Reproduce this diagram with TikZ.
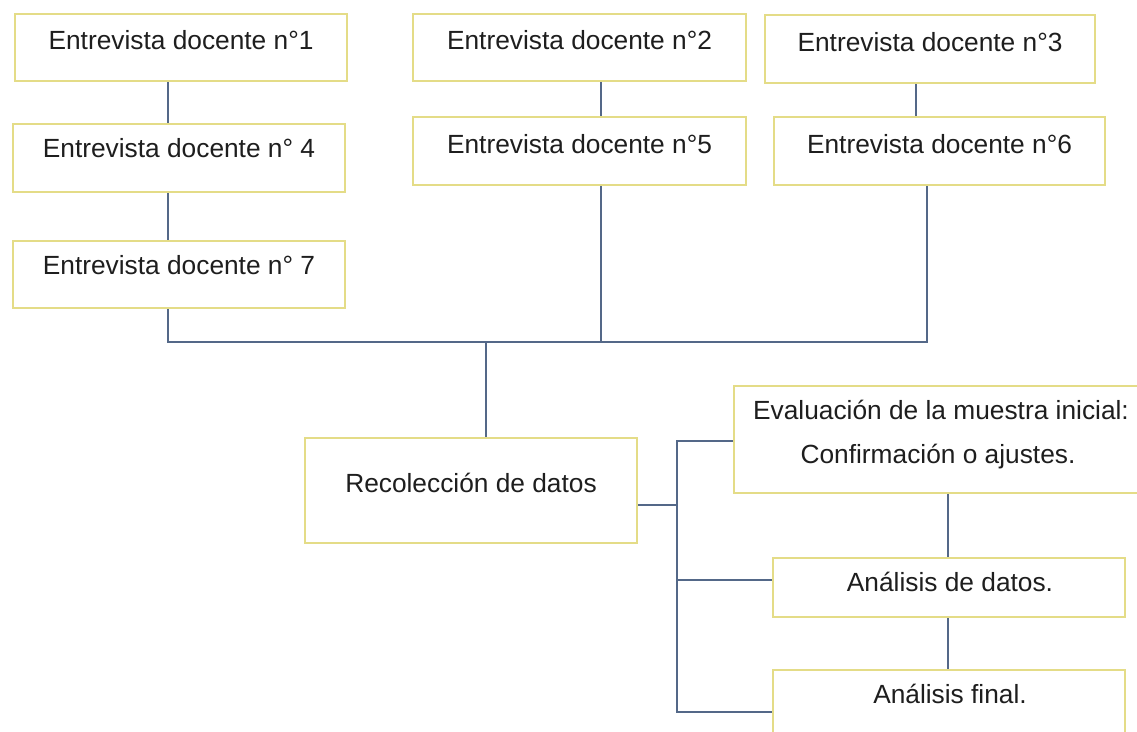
\documentclass[tikz,border=0pt]{standalone}
\usepackage{fontspec}
\setmainfont{Liberation Sans}
\usetikzlibrary{fit}
\definecolor{boxc}{RGB}{228,220,135}
\definecolor{connc}{RGB}{84,104,136}
\definecolor{txtc}{RGB}{30,30,30}
\begin{document}
\begin{tikzpicture}[x=1pt,y=-1pt,
  box/.style={draw=boxc, line width=2pt, fill=white, inner sep=0pt},
  txt/.style={anchor=base, inner sep=0pt, text=txtc, font=\fontsize{26.3pt}{32pt}\selectfont},
  conn/.style={draw=connc, line width=2pt}]
\fill[white] (0,0) rectangle (1137,731);
\useasboundingbox (0,0) rectangle (1137,731);
\clip (0,0) rectangle (1137,731);

% boxes
\node[box, fit={(15,14) (347,81)}] (b1) {};
\node[box, fit={(13,124) (345,192)}] (b4) {};
\node[box, fit={(13,241) (345,308)}] (b7) {};
\node[box, fit={(413,14) (746,81)}] (b2) {};
\node[box, fit={(413,117) (746,185)}] (b5) {};
\node[box, fit={(765,15) (1095,83)}] (b3) {};
\node[box, fit={(774,117) (1105,185)}] (b6) {};
\node[box, fit={(305,438) (637,543)}] (rec) {};
\node[box, fit={(734,386) (1142,493)}] (eval) {};
\node[box, fit={(773,558) (1125,617)}] (ad) {};
\node[box, fit={(773,670) (1125,745)}] (af) {};

% texts
\node[txt] (t1) at (181,49.5) {Entrevista docente n°1};
\node[txt] (t4) at (179,157.5) {Entrevista docente n° 4};
\node[txt] (t7) at (179,274) {Entrevista docente n° 7};
\node[txt] (t2) at (579.5,49.5) {Entrevista docente n°2};
\node[txt] (t5) at (579.5,153) {Entrevista docente n°5};
\node[txt] (t3) at (930,51) {Entrevista docente n°3};
\node[txt] (t6) at (939.5,153) {Entrevista docente n°6};
\node[txt] (trec) at (471,492) {Recolección de datos};
\node[txt] (te1) at (941,419) {Evaluación de la muestra inicial:};
\node[txt] (te2) at (938,463) {Confirmación o ajustes.};
\node[txt] (tad) at (950,591) {Análisis de datos.};
\node[txt] (taf) at (950,703) {Análisis final.};

% junction coordinates
\coordinate (jl) at (168,342);
\coordinate (jm) at (601,342);
\coordinate (jr) at (927,342);
\coordinate (jc) at (486,342);
\coordinate (x36) at (916,0);
\coordinate (r0) at (677,505);
\coordinate (v1) at (677,441);
\coordinate (v2) at (677,580);
\coordinate (v3) at (677,712);
\coordinate (xr) at (948,0);

% connectors
\draw[conn] (b1.south -| jl) -- (b4.north -| jl);
\draw[conn] (b4.south -| jl) -- (b7.north -| jl);
\draw[conn] (b7.south -| jl) -- (jl) -- (jr) -- (b6.south -| jr);
\draw[conn] (b2.south -| jm) -- (b5.north -| jm);
\draw[conn] (b5.south -| jm) -- (jm);
\draw[conn] (b3.south -| x36) -- (b6.north -| x36);
\draw[conn] (jc) -- (rec.north -| jc);
\draw[conn] (rec.east |- r0) -- (r0);
\draw[conn] (eval.west |- v1) -- (v1) -- (v3) -- (af.west |- v3);
\draw[conn] (v2) -- (ad.west |- v2);
\draw[conn] (eval.south -| xr) -- (ad.north -| xr);
\draw[conn] (ad.south -| xr) -- (af.north -| xr);
\end{tikzpicture}
\end{document}
